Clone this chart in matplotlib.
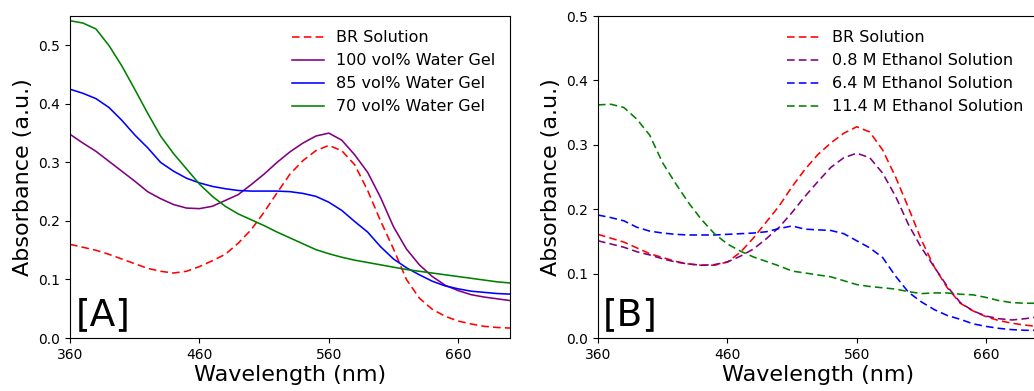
import matplotlib
matplotlib.use("Agg")
import matplotlib.pyplot as plt
import numpy as np

# UV-vis absorbance of BR in water gels [A] and in ethanol solutions [B]

wavelength = np.arange(360, 701, 10)

# panel A
br_solution_a = [0.160, 0.155, 0.150, 0.143, 0.135, 0.127, 0.119, 0.114, 0.111, 0.114,
                 0.122, 0.132, 0.143, 0.162, 0.185, 0.215, 0.248, 0.280, 0.303, 0.320,
                 0.329, 0.320, 0.296, 0.252, 0.200, 0.152, 0.100, 0.068, 0.049, 0.037,
                 0.029, 0.024, 0.020, 0.018, 0.017]
gel_100 = [0.348, 0.333, 0.319, 0.302, 0.285, 0.268, 0.250, 0.238, 0.228, 0.222,
           0.221, 0.225, 0.235, 0.245, 0.262, 0.280, 0.300, 0.318, 0.333, 0.345,
           0.350, 0.338, 0.313, 0.283, 0.240, 0.190, 0.152, 0.125, 0.105, 0.090,
           0.081, 0.074, 0.070, 0.067, 0.064]
gel_85 = [0.425, 0.418, 0.409, 0.394, 0.372, 0.347, 0.325, 0.300, 0.285, 0.273,
          0.265, 0.259, 0.255, 0.252, 0.251, 0.251, 0.251, 0.250, 0.247, 0.242,
          0.232, 0.218, 0.199, 0.181, 0.156, 0.135, 0.120, 0.108, 0.097, 0.089,
          0.084, 0.080, 0.078, 0.076, 0.075]
gel_70 = [0.542, 0.538, 0.528, 0.500, 0.465, 0.425, 0.384, 0.345, 0.315, 0.289,
          0.263, 0.242, 0.225, 0.212, 0.202, 0.192, 0.181, 0.171, 0.161, 0.151,
          0.144, 0.138, 0.133, 0.129, 0.125, 0.121, 0.117, 0.114, 0.111, 0.108,
          0.105, 0.102, 0.099, 0.096, 0.094]

# panel B
br_solution_b = [0.161, 0.155, 0.149, 0.140, 0.131, 0.125, 0.119, 0.115, 0.113, 0.113,
                 0.118, 0.133, 0.155, 0.180, 0.205, 0.235, 0.262, 0.285, 0.303, 0.318,
                 0.328, 0.320, 0.292, 0.250, 0.202, 0.152, 0.110, 0.078, 0.054, 0.042,
                 0.033, 0.027, 0.023, 0.020, 0.018]
eth_08 = [0.151, 0.146, 0.141, 0.134, 0.129, 0.123, 0.118, 0.115, 0.113, 0.114,
          0.118, 0.127, 0.138, 0.154, 0.172, 0.195, 0.220, 0.243, 0.265, 0.280,
          0.287, 0.280, 0.256, 0.220, 0.176, 0.140, 0.110, 0.080, 0.055, 0.042,
          0.034, 0.030, 0.028, 0.030, 0.033]
eth_64 = [0.191, 0.187, 0.182, 0.172, 0.166, 0.163, 0.161, 0.160, 0.160, 0.160,
          0.161, 0.162, 0.163, 0.165, 0.170, 0.174, 0.169, 0.168, 0.167, 0.162,
          0.151, 0.140, 0.125, 0.096, 0.071, 0.056, 0.044, 0.035, 0.029, 0.022,
          0.018, 0.015, 0.013, 0.012, 0.012]
eth_114 = [0.362, 0.363, 0.358, 0.340, 0.315, 0.272, 0.240, 0.210, 0.184, 0.162,
           0.146, 0.135, 0.126, 0.119, 0.112, 0.104, 0.101, 0.098, 0.095, 0.089,
           0.083, 0.080, 0.078, 0.076, 0.072, 0.069, 0.070, 0.070, 0.068, 0.067,
           0.063, 0.058, 0.055, 0.054, 0.054]

xticks = [360, 460, 560, 660]

plt.rcParams['lines.linewidth'] = 1.15
plt.rcParams['lines.scale_dashes'] = False
plt.rcParams['lines.dashed_pattern'] = [5.5, 3.0]

fig = plt.figure(figsize=(10.34, 3.91), dpi=100)
axA = fig.add_axes([0.0677, 0.1355, 0.4255, 0.8235])
axB = fig.add_axes([0.5783, 0.1355, 0.4255, 0.8235])

axA.plot(wavelength, br_solution_a, color='red', linestyle='--', label='BR Solution')
axA.plot(wavelength, gel_100, color='purple', label='100 vol% Water Gel')
axA.plot(wavelength, gel_85, color='blue', label='85 vol% Water Gel')
axA.plot(wavelength, gel_70, color='green', label='70 vol% Water Gel')
axA.set_ylim(0, 0.55)

axB.plot(wavelength, br_solution_b, color='red', linestyle='--', label='BR Solution')
axB.plot(wavelength, eth_08, color='purple', linestyle='--', label='0.8 M Ethanol Solution')
axB.plot(wavelength, eth_64, color='blue', linestyle='--', label='6.4 M Ethanol Solution')
axB.plot(wavelength, eth_114, color='green', linestyle='--', label='11.4 M Ethanol Solution')
axB.set_ylim(0, 0.5)

for ax, tag in [(axA, '[A]'), (axB, '[B]')]:
    ax.set_xlim(360, 700)
    ax.set_xticks(xticks)
    ax.tick_params(labelsize=10)
    ax.set_xlabel('Wavelength (nm)', fontsize=16, labelpad=2)
    ax.set_ylabel('Absorbance (a.u.)', fontsize=16)
    ax.legend(loc='upper right', frameon=False, fontsize=11.5)
    ax.text(0.012, 0.015, tag, transform=ax.transAxes, fontsize=27, va='bottom')

fig.savefig('out.png', dpi=100)
